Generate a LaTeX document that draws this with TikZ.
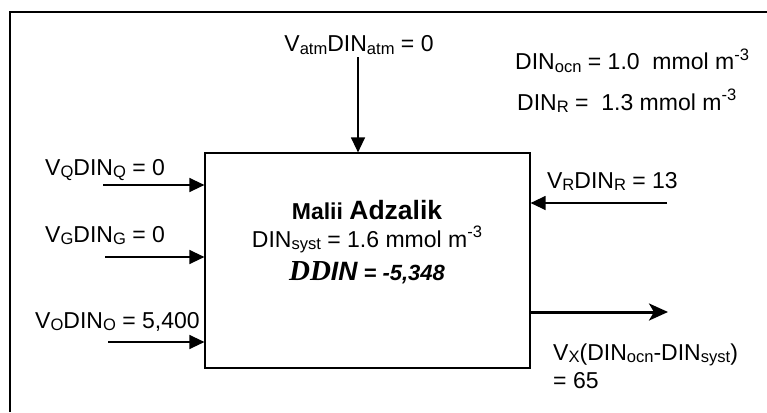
\documentclass[tikz,border=0pt]{standalone}
\usepackage{fontspec}
\usepackage{graphicx}
\setmainfont{Liberation Sans}
\newfontfamily\ddfont{Liberation Serif}
\usetikzlibrary{arrows.meta, positioning}
\newcommand{\sub}[1]{\raisebox{-0.13em}{\scalebox{0.72}{#1}}}
\newcommand{\expo}[1]{\raisebox{0.42em}{\scalebox{0.72}{#1}}}

\begin{document}
\begin{tikzpicture}[
    x=1pt, y=-1pt,
    lbl/.style={font=\fontsize{23}{26}\selectfont, inner sep=0pt},
    flow/.style={-{Triangle[length=15pt, width=14pt]}, line width=1.3pt},
    outflow/.style={-{Stealth[length=19pt, width=17pt, inset=5pt]}, line width=3pt},
]
    \useasboundingbox (0,0) rectangle (767,412);
    % frame
    \draw[line width=2pt] (10,412) -- (10,12) -- (767,12);
    % the system box
    \node[draw, line width=1.2pt, minimum width=325, minimum height=215] (box) at (367.5,260.5) {};
    \node[lbl, anchor=base, font=\bfseries\fontsize{23}{26}\selectfont] (name) at (367,219)
        {Malii {\fontsize{26.5}{26}\selectfont Adzalik}};
    \node[lbl, anchor=base] (syst) at (367,247) {DIN\sub{syst} = 1.6 mmol m\expo{-3}};
    \node[lbl, anchor=base, font=\bfseries\itshape\fontsize{22}{26}\selectfont] (ddin) at (367,280)
        {{\ddfont\fontsize{29}{26}\selectfont DD}{\fontsize{26.5}{26}\selectfont IN} = -5,348};

    % concentrations
    \node[lbl, anchor=base west] (ocn) at (515,70) {DIN\sub{ocn} = 1.0\ \ mmol m\expo{-3}};
    \node[lbl, anchor=base west] (rconc) at (517,110) {DIN\sub{R} = \ 1.3 mmol m\expo{-3}};

    % atmosphere
    \node[lbl, anchor=base] (atm) at (359,52) {V\sub{atm}DIN\sub{atm} = 0};
    \coordinate (atmin) at (358,57);
    \draw[flow] (atmin) -- (atmin |- box.north);

    % left inputs
    \node[lbl, anchor=base west] (qlbl) at (45,175) {V\sub{Q}DIN\sub{Q} = 0};
    \node[lbl, anchor=base west] (glbl) at (45,242) {V\sub{G}DIN\sub{G} = 0};
    \node[lbl, anchor=base west] (olbl) at (35,328) {V\sub{O}DIN\sub{O} = 5,400};
    \coordinate (qin) at (103,185);
    \coordinate (gin) at (105,257);
    \coordinate (oin) at (108,342);
    \draw[flow] (qin) -- (qin -| box.west);
    \draw[flow] (gin) -- (gin -| box.west);
    \draw[flow] (oin) -- (oin -| box.west);

    % right input
    \node[lbl, anchor=base east] (rlbl) at (678,188) {V\sub{R}DIN\sub{R} = 13};
    \coordinate (rin) at (667,203);
    \draw[flow] (rin) -- (rin -| box.east);

    % exchange out
    \coordinate (xout) at (668,312);
    \draw[outflow] (xout -| box.east) -- (xout);
    \node[lbl, anchor=base west] (xlbl) at (553,360) {V\sub{X}(DIN\sub{ocn}-DIN\sub{syst})};
    \node[lbl, anchor=base west] (xval) at (553,388) {= 65};
\end{tikzpicture}
\end{document}
